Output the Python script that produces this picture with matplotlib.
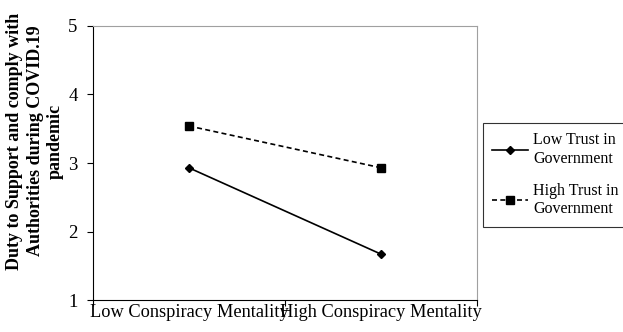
import numpy as np
import matplotlib.pyplot as plt

plt.rcParams['font.family'] = ['Liberation Serif', 'DejaVu Serif']

# data
categories = ['Low Conspiracy Mentality', 'High Conspiracy Mentality']
low_trust = [2.93, 1.67]
high_trust = [3.54, 2.93]
series_names = ['Low Trust in\nGovernment', 'High Trust in\nGovernment']
y_ticks = [1, 2, 3, 4, 5]

fig = plt.figure(figsize=(6.23, 3.32), dpi=100)
ax = fig.add_axes([0.149, 0.096, 0.617, 0.826])

x = np.arange(len(categories)) + 0.5
ax.plot(x, low_trust, color='black', lw=1.2, marker='D', ms=4.5,
        label=series_names[0])
ax.plot(x, high_trust, color='black', lw=1.2, ls=(0, (3, 2)), marker='s', ms=6,
        label=series_names[1])

ax.set_xlim(0, 2)
ax.set_ylim(1, 5)
ax.set_yticks(y_ticks)
ax.tick_params(axis='y', labelsize=13.5, length=4, pad=7, direction='out')

# category labels between the tick marks
ax.set_xticks([0, 1, 2])
ax.set_xticklabels([])
ax.set_xticks(x, minor=True)
ax.set_xticklabels(categories, minor=True, fontsize=13.2)
ax.tick_params(axis='x', which='major', length=4, direction='out')
ax.tick_params(axis='x', which='minor', length=0, pad=3)

for side in ['top', 'right']:
    ax.spines[side].set_color('#a0a0a0')
for side in ['left', 'bottom']:
    ax.spines[side].set_color('black')

ax.set_ylabel('Duty to Support and comply with\nAuthorities during COVID.19\npandemic',
              fontsize=13, fontweight='bold', linespacing=1.25)
ax.yaxis.set_label_coords(-0.075, 0.58)

leg = fig.legend(loc='upper left', bbox_to_anchor=(0.775, 0.630), fontsize=11.5,
                 frameon=True, fancybox=False, edgecolor='black', handlelength=2.2,
                 labelspacing=1.0, borderpad=0.6, handletextpad=0.35,
                 borderaxespad=0)
leg.get_frame().set_linewidth(0.8)
for t in leg.get_texts():
    t.set_multialignment('left')

fig.savefig('out.png', dpi=100)
